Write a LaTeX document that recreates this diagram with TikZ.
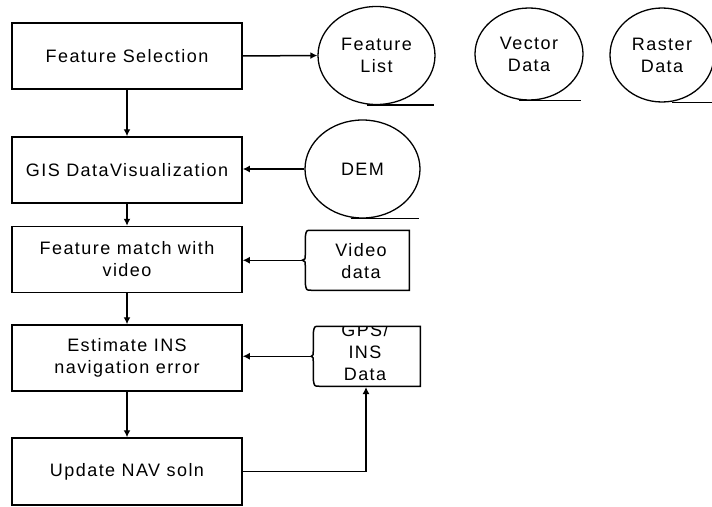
\documentclass[tikz,border=0pt]{standalone}
\usepackage{fontspec}
\setmainfont[LetterSpace=8]{Liberation Sans}
\usetikzlibrary{shapes.geometric,arrows.meta,calc}
\begin{document}
\begin{tikzpicture}[x=1pt,y=-1pt,
  line width=1.5pt,
  every node/.style={font=\fontsize{18}{22}\selectfont, align=center, inner sep=0pt},
  procbox/.style={draw, minimum width=230pt, minimum height=66pt},
  store/.style={draw, ellipse, line width=1.3pt},
  flow/.style={-{Latex[length=7pt,width=7pt]}}]
\useasboundingbox (0,0) rectangle (712,506);
\clip (0,0) rectangle (712,506);

% process steps
\node[procbox] (fs)  at (127,56)    {Feature Selection};
\node[procbox] (gis) at (127,170)   {GIS DataVisualization};
\node[procbox] (fm)  at (127,259.5) {Feature match with\\video};
\node[procbox] (est) at (127,358)   {Estimate INS\\navigation error};
\node[procbox, minimum height=67pt] (upd) at (127,471.5) {Update NAV soln};

% data stores
\node[store, minimum width=117pt, minimum height=98pt] (fl)  at (376.5,55.5) {Feature\\List};
\node[store, minimum width=108pt, minimum height=92pt] (vec) at (529,54)     {Vector\\Data};
\node[store, minimum width=104pt, minimum height=94pt] (ras) at (662,55)     {Raster\\Data};
\node[store, minimum width=115pt, minimum height=98pt] (dem) at (362.5,169)  {DEM};

% underlines of the stores
\draw ($(fl.south)+(-10,0)$)  -- ($(fl.south)+(57,0)$);
\draw ($(vec.south)+(-10,0)$) -- ($(vec.south)+(52,0)$);
\draw ($(ras.south)+(10,0)$)  -- ($(ras.south)+(60,0)$);
\draw ($(dem.south)+(-12,0)$) -- ($(dem.south)+(56,0)$);

% external inputs with a brace-shaped left side
\node[minimum width=98pt, minimum height=60pt] (vid) at (361,261) {Video\\data};
\begin{scope}[shift={(vid.north west)}]
  \draw (98,0) -- (0,0) .. controls (-5,0) .. (-6,7) -- (-6,25)
        .. controls (-6,29) .. (-9,30) .. controls (-6,31) .. (-6,35)
        -- (-6,53) .. controls (-5,60) .. (0,60) -- (98,60) -- cycle;
  \coordinate (vidtip) at (-9,30);
\end{scope}

\node[minimum width=101pt, minimum height=60pt] (gps) at (370.5,357) {};
\begin{scope}
  \clip (gps.north west) rectangle (gps.south east);
  \node (gpstext) at (365,352) {GPS/\\INS\\Data};
\end{scope}
\begin{scope}[shift={(gps.north west)}]
  \draw (101,0) -- (0,0) .. controls (-5,0) .. (-6,7) -- (-6,25)
        .. controls (-6,29) .. (-8,30) .. controls (-6,31) .. (-6,35)
        -- (-6,53) .. controls (-5,60) .. (0,60) -- (101,60) -- cycle;
  \coordinate (gpstip) at (-8,30);
\end{scope}
\coordinate (gpsin) at (366,387);

% connectors
\draw[flow] (fs) -- (gis);
\draw[flow] (gis) -- (fm);
\draw[flow] (fm) -- (est);
\draw[flow] (est) -- (upd);
\draw[flow] (fs.east) -- (fl.west);
\draw[flow] (dem.west) -- (gis.east |- dem.west);
\draw[flow] (vidtip) -- (fm.east |- vidtip);
\draw[flow] (gpstip) -- (est.east |- gpstip);
\draw[flow] (upd.east) -| (gpsin);
\end{tikzpicture}
\end{document}
